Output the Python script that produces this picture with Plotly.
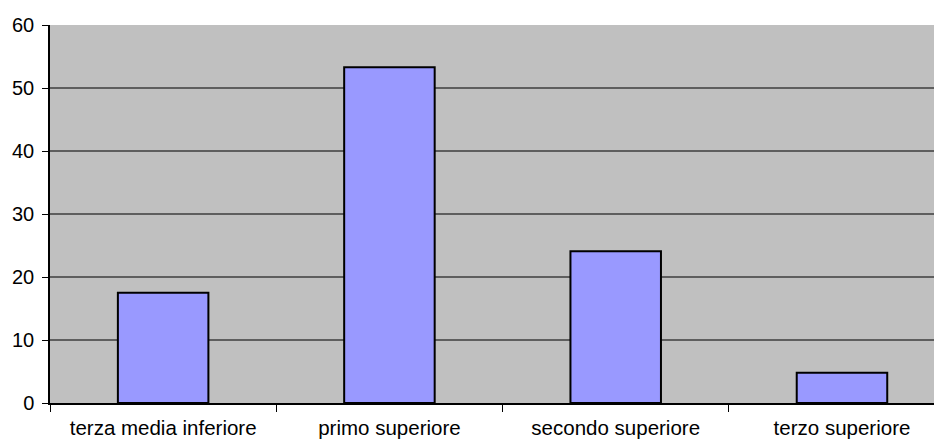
import plotly.graph_objects as go

categories = ["terza media inferiore", "primo superiore", "secondo superiore", "terzo superiore"]
values = [17.5, 53.3, 24.1, 4.8]
y_ticks = [0, 10, 20, 30, 40, 50, 60]

fig = go.Figure()
fig.add_trace(go.Bar(
    x=categories, y=values, width=0.4,
    marker=dict(color="#9999FF", line=dict(color="#000000", width=2)),
))

fig.update_layout(
    width=934, height=435,
    margin=dict(l=42, r=0, t=17, b=40, autoexpand=False),
    paper_bgcolor="white", plot_bgcolor="#C0C0C0",
    showlegend=False, bargap=0.6,
    font=dict(family="Liberation Sans, Arial, sans-serif", size=19, color="#000000"),
)
fig.update_xaxes(
    type="category", range=[-0.5, 3.442], automargin=False,
    tickson="boundaries", ticks="outside", ticklen=7, tickcolor="#000000", tickwidth=1,
    showline=True, linecolor="#000000", linewidth=1.5,
    showgrid=False, ticklabelstandoff=6,
    tickfont=dict(size=20.5),
)
fig.update_yaxes(
    range=[0, 60], tickvals=y_ticks, ticktext=[str(v) for v in y_ticks],
    automargin=False,
    ticks="outside", ticklen=6, tickcolor="#000000", tickwidth=1,
    showline=True, linecolor="#000000", linewidth=1.5,
    showgrid=True, gridcolor="#5E5E5E", gridwidth=1.7,
    zeroline=False, ticklabelstandoff=4,
    tickfont=dict(size=20),
)
fig.write_html("out.html")
